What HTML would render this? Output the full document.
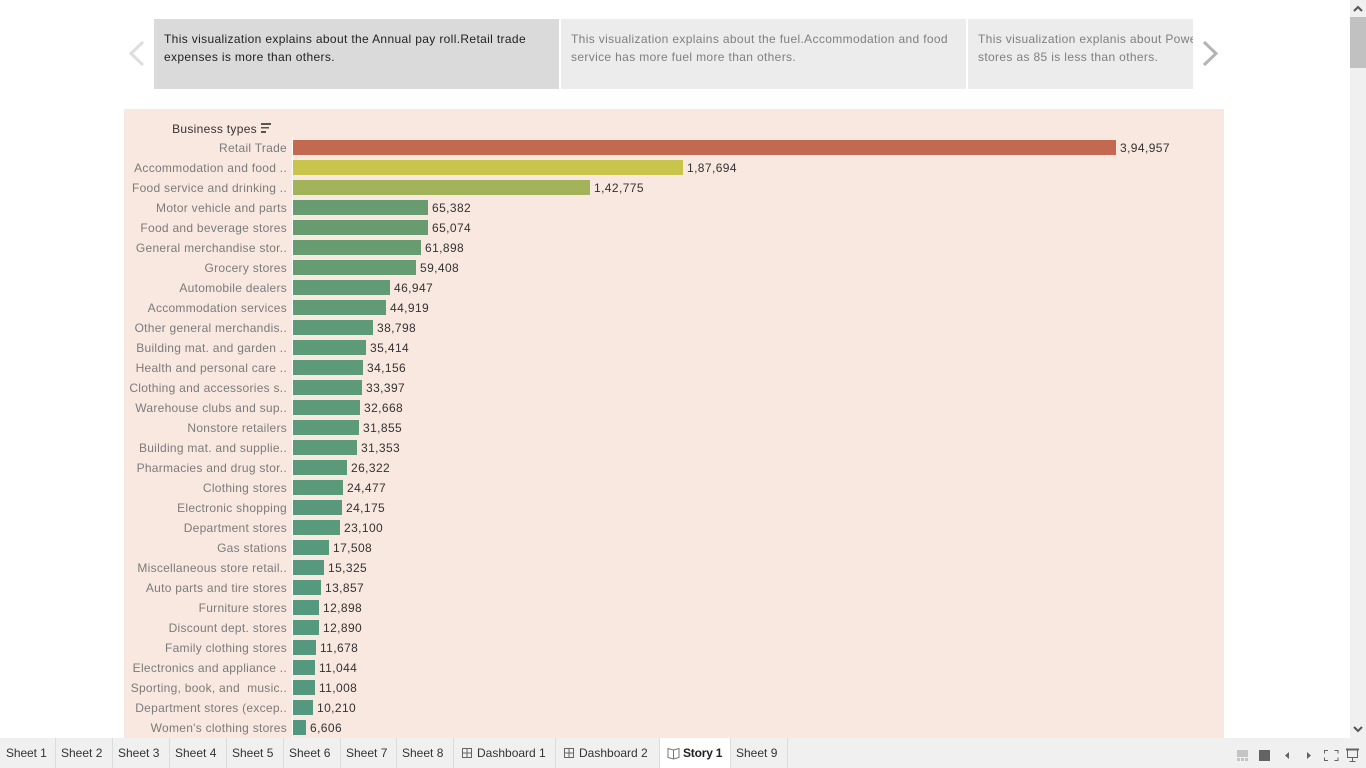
<!DOCTYPE html>
<html lang="en">
<head>
<meta charset="utf-8">
<title>Story 1</title>
<style>
html,body{margin:0;padding:0;width:1366px;height:768px;overflow:hidden;background:#fff;font-family:"Liberation Sans",sans-serif;}
.abs{position:absolute;}
.story-point{position:absolute;top:19px;height:70px;background:#ececec;color:#7f7f7f;font-size:12px;letter-spacing:0.35px;line-height:18px;overflow:hidden;box-sizing:border-box;padding:11px 0 0 10px;white-space:nowrap;}
.story-point.active{background:#dadada;color:#222;}
.tab{position:absolute;top:738px;height:30px;line-height:30px;font-size:12px;color:#333;box-sizing:border-box;border-right:1px solid #dcdcdc;white-space:nowrap;}
svg text{font-family:"Liberation Sans",sans-serif;white-space:pre;}
</style>
</head>
<body>
<div class="abs" style="left:0;top:0;width:1366px;height:768px;overflow:hidden;">

<svg class="abs" style="left:128px;top:40px" width="18" height="28"><polyline points="15,2 3,13.5 15,25" fill="none" stroke="#dedede" stroke-width="3"/></svg>
<div class="story-point active" style="left:154px;width:405px;">This visualization explains about the Annual pay roll.Retail trade<br>expenses is more than others.</div>
<div class="story-point" style="left:561px;width:405px;">This visualization explains about the fuel.Accommodation and food<br>service has more fuel more than others.</div>
<div class="story-point" style="left:968px;width:225px;">This visualization explanis about Power<br>stores as 85 is less than others.</div>
<svg class="abs" style="left:1201px;top:40px" width="18" height="28"><polyline points="3,2 15,13.5 3,25" fill="none" stroke="#b4b4b4" stroke-width="3"/></svg>

<svg id="chart" class="abs" style="left:0;top:0" width="1350" height="738">
  <rect x="124" y="109" width="1100" height="629" fill="#f9e8e0"/>
  <text x="257" y="133" text-anchor="end" font-size="12" letter-spacing="0.3" fill="#333">Business types</text>
  <g fill="#555">
    <rect x="261" y="123" width="10" height="2"/>
    <rect x="261" y="127" width="8" height="1.500"/>
    <rect x="261" y="131" width="5" height="2"/>
  </g>
  <line x1="292.5" y1="137" x2="292.5" y2="738" stroke="#ffffff"/>
  <g id="marks"></g>
</svg>

<div class="abs" style="left:1350px;top:0;width:16px;height:738px;background:#f0f0f0;">
  <svg class="abs" style="left:0;top:0" width="16" height="17"><polyline points="4,11 8,7 12,11" fill="none" stroke="#555" stroke-width="2"/></svg>
  <div class="abs" style="left:0;top:17px;width:16px;height:51px;background:#c1c1c1;"></div>
  <svg class="abs" style="left:0;top:721px" width="16" height="17"><polyline points="4,6 8,10 12,6" fill="none" stroke="#555" stroke-width="2"/></svg>
</div>

<div class="abs" style="left:0;top:738px;width:1366px;height:30px;background:#f0f0f0;"></div>
<div class="tab" style="left:0;width:56px;padding-left:6px;letter-spacing:-0.1px;">Sheet 1</div>
<div class="tab" style="left:56px;width:57px;padding-left:5px;">Sheet 2</div>
<div class="tab" style="left:113px;width:57px;padding-left:5px;">Sheet 3</div>
<div class="tab" style="left:170px;width:57px;padding-left:5px;">Sheet 4</div>
<div class="tab" style="left:227px;width:57px;padding-left:5px;">Sheet 5</div>
<div class="tab" style="left:284px;width:57px;padding-left:5px;">Sheet 6</div>
<div class="tab" style="left:341px;width:56px;padding-left:5px;">Sheet 7</div>
<div class="tab" style="left:397px;width:57px;padding-left:5px;">Sheet 8</div>
<div class="tab" style="left:454px;width:102px;padding-left:23px;">Dashboard 1
  <svg class="abs" style="left:7px;top:9px" width="12" height="12"><path d="M1.500 1.500h9v9h-9zM6 1.500v9M1.500 6h9" fill="none" stroke="#666"/></svg></div>
<div class="tab" style="left:556px;width:104px;padding-left:23px;">Dashboard 2
  <svg class="abs" style="left:7px;top:9px" width="12" height="12"><path d="M1.500 1.500h9v9h-9zM6 1.500v9M1.500 6h9" fill="none" stroke="#666"/></svg></div>
<div class="tab" style="left:660px;width:71px;padding-left:23px;background:#fff;font-weight:bold;color:#222;letter-spacing:-0.2px;">Story 1
  <svg class="abs" style="left:7px;top:9px" width="13" height="13"><path d="M6.500 3L1 1.500v9L6.500 12l5.500-1.500v-9zM6.500 3v9" fill="none" stroke="#777"/></svg></div>
<div class="tab" style="left:731px;width:57px;padding-left:5px;">Sheet 9</div>

<svg class="abs" style="left:1230px;top:745px" width="130" height="20">
  <g fill="#c4c4c4">
    <rect x="7" y="5" width="11" height="7"/><rect x="7" y="13" width="3" height="3"/><rect x="11" y="13" width="3" height="3"/><rect x="15" y="13" width="3" height="3"/>
  </g>
  <rect x="29" y="5" width="11" height="11" fill="#636363"/>
  <path d="M59 7v7l-4-3.500z" fill="#636363"/>
  <path d="M77 7v7l4-3.500z" fill="#636363"/>
  <path d="M94.500 8.500v-3h3.500M104.500 5.500h3.500v3M108 12.500v3h-3.500M98 15.500h-3.500v-3" fill="none" stroke="#636363"/>
  <g fill="none" stroke="#636363">
    <path d="M116 4.500h13" stroke-width="2"/><path d="M117.500 5v7.500h10V5M122.500 12v4M119.500 16.500h6"/>
  </g>
</svg>
</div>

<script>
var categories = ["Retail Trade","Accommodation and food ..","Food service and drinking ..","Motor vehicle and parts","Food and beverage stores","General merchandise stor..","Grocery stores","Automobile dealers","Accommodation services","Other general merchandis..","Building mat. and garden ..","Health and personal care ..","Clothing and accessories s..","Warehouse clubs and sup..","Nonstore retailers","Building mat. and supplie..","Pharmacies and drug stor..","Clothing stores","Electronic shopping","Department stores","Gas stations","Miscellaneous store retail..","Auto parts and tire stores","Furniture stores","Discount dept. stores","Family clothing stores","Electronics and appliance ..","Sporting, book, and  music..","Department stores (excep..","Women's clothing stores"];
var payrollValues = [394957,187694,142775,65382,65074,61898,59408,46947,44919,38798,35414,34156,33397,32668,31855,31353,26322,24477,24175,23100,17508,15325,13857,12898,12890,11678,11044,11008,10210,6606];
var axisMaximum = 394957;

var plotLeft = 293, plotWidth = 823.4, firstRowTop = 140, rowStep = 20, barHeight = 15;
function xScale(v){ return Math.max(1, Math.floor(plotWidth * v / axisMaximum - 0.4)); }
function yScale(i){ return firstRowTop + i * rowStep; }
function formatIndian(v){
  var s = String(Math.round(v));
  if (s.length <= 3) return s;
  var tail = s.slice(-3), head = s.slice(0, -3);
  return head.replace(/\B(?=(\d{2})+(?!\d))/g, ",") + "," + tail;
}
function colorFor(v){
  var stops = [[0,[80,152,130]],[0.165,[104,156,112]],[0.36,[163,179,90]],[0.475,[200,196,76]],[1,[194,105,79]]];
  var t = Math.max(0, Math.min(1, v / axisMaximum)), k = 0;
  while (k < stops.length - 2 && t > stops[k + 1][0]) k++;
  var a = stops[k], b = stops[k + 1], f = (t - a[0]) / (b[0] - a[0]);
  return "rgb(" + [0,1,2].map(function(c){ return Math.round(a[1][c] + (b[1][c] - a[1][c]) * f); }).join(",") + ")";
}
var NS = "http://www.w3.org/2000/svg";
var marks = document.getElementById("marks");
categories.forEach(function(name, i){
  var v = payrollValues[i], y = yScale(i), w = xScale(v);
  var label = document.createElementNS(NS, "text");
  
  
  label.setAttribute("x", plotLeft - 6);
  label.setAttribute("y", y + 12);
  label.setAttribute("text-anchor", "end");
  label.setAttribute("font-size", "12");
  label.setAttribute("letter-spacing", "0.27");
  label.setAttribute("fill", "#7b7b7b");
  label.textContent = name;
  marks.appendChild(label);
  var bar = document.createElementNS(NS, "rect");
  
  
  bar.setAttribute("x", plotLeft);
  bar.setAttribute("y", y);
  bar.setAttribute("width", w);
  bar.setAttribute("height", barHeight);
  bar.setAttribute("fill", colorFor(v));
  marks.appendChild(bar);
  var val = document.createElementNS(NS, "text");
  
  
  val.setAttribute("x", plotLeft + w + 4);
  val.setAttribute("y", y + 12);
  val.setAttribute("font-size", "12");
  val.setAttribute("letter-spacing", "0.4");
  val.setAttribute("fill", "#333");
  val.textContent = formatIndian(v);
  marks.appendChild(val);
});
</script>
</body>
</html>
